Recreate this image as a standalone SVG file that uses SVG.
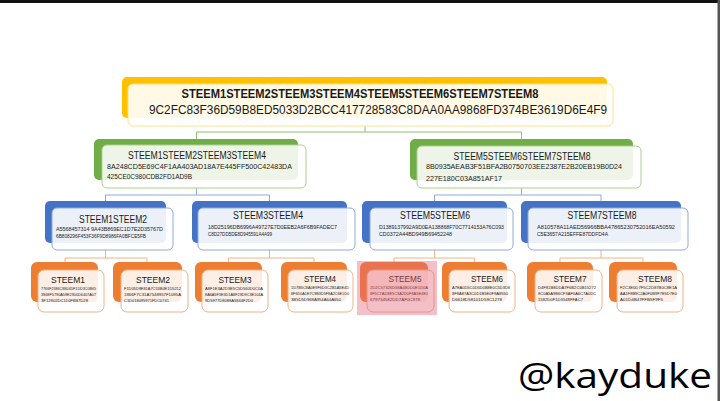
<svg xmlns="http://www.w3.org/2000/svg" width="720" height="401" viewBox="0 0 720 401">
<style>
text{font-family:"Liberation Sans","DejaVu Sans",sans-serif;fill:#1a1a1a}
.t{text-anchor:middle}
.bk1{fill:#FFC000}
.fr1{fill:#fff;fill-opacity:.9;stroke:#FFE28A;stroke-width:1}
.bk2{fill:#70AD47}
.fr2{fill:#fff;fill-opacity:.88;stroke:#A9D18E;stroke-width:1}
.bk3{fill:#4472C4}
.fr3{fill:#fff;fill-opacity:.9;stroke:#8FAADC;stroke-width:1}
.bk4{fill:#ED7D31}
.fr4{fill:#fff;fill-opacity:.88;stroke:#F4B183;stroke-width:1}
.c1{stroke:#8CC26A;fill:none;stroke-width:1}
.c2{stroke:#8FAADC;fill:none;stroke-width:1}
.c3{stroke:#F4B183;fill:none;stroke-width:1}
.h3{font-size:5px}
.h4{font-size:4.4px}
.lt{font-size:9px}
</style>
<rect x="0" y="0" width="720" height="401" fill="#fff"/>
<rect x="0" y="0" width="720" height="3" fill="#111"/>
<rect x="717.5" y="0" width="2.5" height="401" fill="#555"/>

<g id="connectors">
<path class="c1" d="M365 126V132M196.5 132H521.5M196.5 132V139M521.5 132V139"/>
<path class="c2" d="M196.5 188V195M105.5 195H269.5M105.5 195V201M269.5 195V201"/>
<path class="c2" d="M521.5 188V195M434.5 195H601M434.5 195V201M601 195V201"/>
<path class="c3" d="M105.5 250V258M65 258H147M65 258V262M147 258V262"/>
<path class="c3" d="M269.5 250V258M228.5 258H314M228.5 258V262M314 258V262"/>
<path class="c3" d="M434.5 250V258M394 258H474.5M394 258V262M474.5 258V262"/>
<path class="c3" d="M601 250V258M560 258H643M560 258V262M643 258V262"/>
</g>

<g id="root">
<rect class="bk1" x="122" y="77" width="485" height="41" rx="5"/>
<rect class="fr1" x="128" y="84" width="485" height="42" rx="5"/>
<text class="t" x="360" y="97.5" font-size="12" font-weight="bold" textLength="357" lengthAdjust="spacingAndGlyphs">STEEM1STEEM2STEEM3STEEM4STEEM5STEEM6STEEM7STEEM8</text>
<text x="149" y="114" font-size="12.5" textLength="458" lengthAdjust="spacingAndGlyphs">9C2FC83F36D59B8ED5033D2BCC417728583C8DAA0AA9868FD374BE3619D6E4F9</text>
</g>

<g id="n1234">
<rect class="bk2" x="94" y="139" width="204" height="41" rx="5"/>
<rect class="fr2" x="102" y="145" width="204" height="43" rx="5"/>
<text class="t" x="197" y="159" font-size="10" textLength="138" lengthAdjust="spacingAndGlyphs">STEEM1STEEM2STEEM3STEEM4</text>
<text x="107" y="169" font-size="7.5" textLength="185" lengthAdjust="spacingAndGlyphs">8A248CD5E69C4F1AA403AD18A7E445FF500C42483DA</text>
<text x="107" y="179" font-size="7.5" textLength="85" lengthAdjust="spacingAndGlyphs">425CE0C980CDB2FD1AD9B</text>
</g>

<g id="n5678">
<rect class="bk2" x="410" y="139" width="223" height="41" rx="5"/>
<rect class="fr2" x="417" y="146" width="224" height="42" rx="5"/>
<text class="t" x="522" y="160" font-size="10" textLength="137" lengthAdjust="spacingAndGlyphs">STEEM5STEEM6STEEM7STEEM8</text>
<text x="426" y="169" font-size="7.5" textLength="196" lengthAdjust="spacingAndGlyphs">8B0935AEAB3F51BFA2B0750703EE2387E2B20EB19B0D24</text>
<text x="426" y="180.5" font-size="7.5" textLength="76" lengthAdjust="spacingAndGlyphs">227E180C03A851AF17</text>
</g>

<g id="n12">
<rect class="bk3" x="45" y="201" width="121" height="42" rx="5"/>
<rect class="fr3" x="52" y="208" width="121" height="42" rx="5"/>
<text class="t" x="113" y="223" font-size="10" textLength="68" lengthAdjust="spacingAndGlyphs">STEEM1STEEM2</text>
<text x="56" y="231" class="h3" textLength="107" lengthAdjust="spacingAndGlyphs">A5568457314 9A43B869EC1D7E2D35767D</text>
<text x="56" y="238" class="h3" textLength="90" lengthAdjust="spacingAndGlyphs">6B808296F453F36F9D8986FA0BFCE5FB</text>
</g>

<g id="n34">
<rect class="bk3" x="192" y="201" width="155" height="42" rx="5"/>
<rect class="fr3" x="198" y="208" width="157" height="42" rx="5"/>
<text class="t" x="268" y="218.5" font-size="10" textLength="70" lengthAdjust="spacingAndGlyphs">STEEM3STEEM4</text>
<text x="208" y="229" class="h3" textLength="129" lengthAdjust="spacingAndGlyphs">18D25196DB6996A49727E7D0EEB2A6F6B9FADEC7</text>
<text x="208" y="236" class="h3" textLength="64" lengthAdjust="spacingAndGlyphs">C8D27DD5DE8D945591A4A99</text>
</g>

<g id="n56">
<rect class="bk3" x="362" y="201" width="145" height="42" rx="5"/>
<rect class="fr3" x="370" y="208" width="143" height="42" rx="5"/>
<text class="t" x="435" y="219" font-size="10" textLength="70" lengthAdjust="spacingAndGlyphs">STEEM5STEEM6</text>
<text x="379" y="229" class="h3" textLength="125" lengthAdjust="spacingAndGlyphs">D1389137992A9D0EA138868F70C7714153A76C093</text>
<text x="379" y="236" class="h3" textLength="73" lengthAdjust="spacingAndGlyphs">CD0372A44BD949B69452248</text>
</g>

<g id="n78">
<rect class="bk3" x="521" y="201" width="160" height="42" rx="5"/>
<rect class="fr3" x="528" y="208" width="160" height="42" rx="5"/>
<text class="t" x="602" y="219" font-size="10" textLength="69" lengthAdjust="spacingAndGlyphs">STEEM7STEEM8</text>
<text x="537" y="229" class="h3" textLength="138" lengthAdjust="spacingAndGlyphs">A810578A11AED56966BBA47865230752016EA50592</text>
<text x="537" y="236" class="h3" textLength="71" lengthAdjust="spacingAndGlyphs">C5E3657A215EFFE87DDFD4A</text>
</g>

<g id="s1">
<rect class="bk4" x="31" y="262" width="67" height="40" rx="6"/>
<rect class="fr4" x="38" y="270" width="66" height="42" rx="6"/>
<text class="t lt" x="68" y="283" textLength="34" lengthAdjust="spacingAndGlyphs">STEEM1</text>
<text class="h4" x="41" y="289.5" textLength="55" lengthAdjust="spacingAndGlyphs">7766F2386C8804DF1DD3C0B65</text>
<text class="h4" x="41" y="295.5" textLength="55" lengthAdjust="spacingAndGlyphs">3968F5790A59E2900D6407A07</text>
<text class="h4" x="41" y="301.5" textLength="47" lengthAdjust="spacingAndGlyphs">3F12902DC110F8B7D28</text>
</g>

<g id="s2">
<rect class="bk4" x="113" y="262" width="69" height="40" rx="6"/>
<rect class="fr4" x="121" y="270" width="67" height="42" rx="6"/>
<text class="t lt" x="153" y="283" textLength="34" lengthAdjust="spacingAndGlyphs">STEEM2</text>
<text class="h4" x="124" y="289.5" textLength="57" lengthAdjust="spacingAndGlyphs">F1D05D9E81A7C53B0E1D5212</text>
<text class="h4" x="124" y="295.5" textLength="57" lengthAdjust="spacingAndGlyphs">1866F7C31A7548957F1095A</text>
<text class="h4" x="124" y="301.5" textLength="45" lengthAdjust="spacingAndGlyphs">C1D018095971FDC0741</text>
</g>

<g id="s3">
<rect class="bk4" x="195" y="262" width="67" height="40" rx="6"/>
<rect class="fr4" x="202" y="270" width="66" height="42" rx="6"/>
<text class="t lt" x="235" y="283" textLength="33" lengthAdjust="spacingAndGlyphs">STEEM3</text>
<text class="h4" x="205" y="289.5" textLength="58" lengthAdjust="spacingAndGlyphs">A8F1E3A2D3E5C5D560D0C0A</text>
<text class="h4" x="205" y="295.5" textLength="58" lengthAdjust="spacingAndGlyphs">8A6A5F3E3D1A8F29D9C3E104A</text>
<text class="h4" x="205" y="301.5" textLength="48" lengthAdjust="spacingAndGlyphs">9D5977D8088A5844F2D0</text>
</g>

<g id="s4">
<rect class="bk4" x="281" y="262" width="66" height="40" rx="6"/>
<rect class="fr4" x="288" y="270" width="65" height="42" rx="6"/>
<text class="t lt" x="320" y="282" textLength="32" lengthAdjust="spacingAndGlyphs">STEEM4</text>
<text class="h4" x="291" y="289" textLength="58" lengthAdjust="spacingAndGlyphs">1D7B5C8A0E9F6D3C2B1A5E4D</text>
<text class="h4" x="291" y="295" textLength="58" lengthAdjust="spacingAndGlyphs">8F6D0A1E7C9B3D5F8A2C6E1D0</text>
<text class="h4" x="291" y="301" textLength="50" lengthAdjust="spacingAndGlyphs">3B5D5D968A954A64A650</text>
</g>

<g id="s5">
<rect class="bk4" x="360" y="262" width="68" height="40" rx="6"/>
<rect class="fr4" x="367" y="270" width="67" height="42" rx="6"/>
<text class="t lt" x="405" y="282" textLength="33" lengthAdjust="spacingAndGlyphs">STEEM5</text>
<text class="h4" x="370" y="289" textLength="58" lengthAdjust="spacingAndGlyphs">2D2C57326D58A4B0D0E1D0A</text>
<text class="h4" x="370" y="295" textLength="58" lengthAdjust="spacingAndGlyphs">8F5C7AD8E5C3A2D0F8A5E4E0</text>
<text class="h4" x="370" y="301" textLength="50" lengthAdjust="spacingAndGlyphs">679734582DD7AF0C978</text>
</g>
<rect id="hl" x="357" y="261" width="80" height="54" fill="#E8677A" fill-opacity="0.42"/>

<g id="s6">
<rect class="bk4" x="442" y="262" width="65" height="40" rx="6"/>
<rect class="fr4" x="449" y="270" width="66" height="42" rx="6"/>
<text class="t lt" x="487" y="282" textLength="32" lengthAdjust="spacingAndGlyphs">STEEM6</text>
<text class="h4" x="452" y="289" textLength="58" lengthAdjust="spacingAndGlyphs">A7EA0D5C0D5D0B8E0C5D3D8</text>
<text class="h4" x="452" y="295" textLength="56" lengthAdjust="spacingAndGlyphs">8F8A87A3C0D1B5E0F9A8550</text>
<text class="h4" x="452" y="301" textLength="50" lengthAdjust="spacingAndGlyphs">D6618D58101D59C1278</text>
</g>

<g id="s7">
<rect class="bk4" x="527" y="262" width="66" height="40" rx="6"/>
<rect class="fr4" x="535" y="270" width="67" height="42" rx="6"/>
<text class="t lt" x="570" y="282" textLength="33" lengthAdjust="spacingAndGlyphs">STEEM7</text>
<text class="h4" x="538" y="289" textLength="58" lengthAdjust="spacingAndGlyphs">D4F81B8DDA7F6B2C0B15272</text>
<text class="h4" x="538" y="295" textLength="58" lengthAdjust="spacingAndGlyphs">8C0A5A9B6CF3AF6A6C7A0DC</text>
<text class="h4" x="538" y="301" textLength="45" lengthAdjust="spacingAndGlyphs">1582D0F1D3548FFAC7</text>
</g>

<g id="s8">
<rect class="bk4" x="609" y="262" width="68" height="40" rx="6"/>
<rect class="fr4" x="617" y="270" width="66" height="42" rx="6"/>
<text class="t lt" x="655" y="282" textLength="34" lengthAdjust="spacingAndGlyphs">STEEM8</text>
<text class="h4" x="620" y="289" textLength="57" lengthAdjust="spacingAndGlyphs">F2C3E0D7F5C2D87B0C8E1A</text>
<text class="h4" x="620" y="295" textLength="57" lengthAdjust="spacingAndGlyphs">AA1F8B9C2A0F0B9F7E5D7E0</text>
<text class="h4" x="620" y="301" textLength="43" lengthAdjust="spacingAndGlyphs">A01D4B47FFB5F9F5</text>
</g>

<text id="sig" x="518" y="388" font-size="34" style="font-family:'Open Sans','Liberation Sans',sans-serif;fill:#000" textLength="194" lengthAdjust="spacingAndGlyphs">@kayduke</text>
</svg>
